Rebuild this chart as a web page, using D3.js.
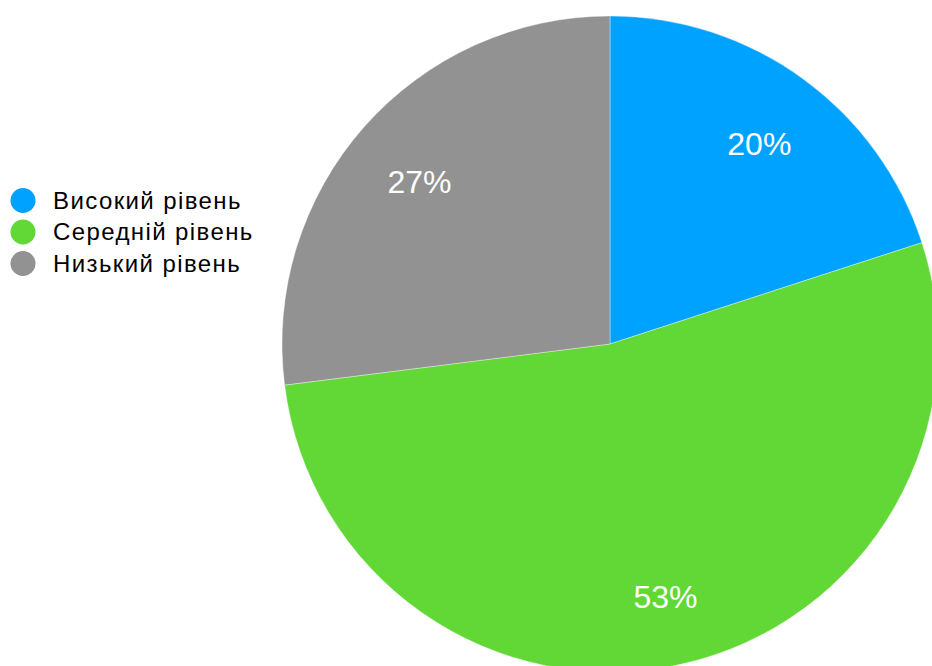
<!DOCTYPE html>
<html>
<head>
<meta charset="utf-8">
<script src="https://cdn.jsdelivr.net/npm/d3@7"></script>
<style>
  html, body { margin: 0; padding: 0; background: #fff; overflow: hidden; }
  svg { display: block; font-family: "Liberation Sans", Arial, Helvetica, sans-serif; }
</style>
</head>
<body>
<div id="container"></div>
<script>
const levels = ["Високий рівень", "Середній рівень", "Низький рівень"]
const shares = [20, 53, 27]
const colors = ["#00A2FF", "#61D836", "#929292"]

const width = 932, height = 666
const cx = 610, cy = 344, radius = 328

const svg = d3.select("#container").append("svg")
    .attr("width", width)
    .attr("height", height)

const pie = d3.pie().sort(null).value(d => d)
const arcs = pie(shares)

const arc = d3.arc().innerRadius(0).outerRadius(radius)
const labelArc = d3.arc().innerRadius(254).outerRadius(254)

const g = svg.append("g").attr("transform", `translate(${cx},${cy})`)

g.selectAll("path")
    .data(arcs)
    .enter()
    .append("path")
    .attr("d", arc)
    .style("fill", (d, i) => colors[i])
    .style("stroke", "rgba(255,255,255,0.45)")
    .style("stroke-width", 0.8)

// labels sit a little below the centroid in the original
g.selectAll("text")
    .data(arcs)
    .enter()
    .append("text")
    .attr("transform", d => `translate(${labelArc.centroid(d)})`)
    .attr("text-anchor", "middle")
    .attr("dy", 5 + 11.5)
    .style("fill", "#fff")
    .style("font-size", "32px")
    .text(d => d.data + "%")

// legend
const legend = svg.append("g")
    .selectAll("g")
    .data(levels)
    .enter()
    .append("g")
    .attr("transform", (d, i) => `translate(0,${200.5 + i * 31.5})`)

legend.append("circle")
    .attr("cx", 23)
    .attr("cy", 0)
    .attr("r", 12.5)
    .style("fill", (d, i) => colors[i])

legend.append("text")
    .attr("x", 53)
    .attr("y", 8)
    .style("fill", "#000")
    .style("font-size", "24px")
    .style("letter-spacing", "1.4px")
    .text(d => d)
</script>
</body>
</html>
